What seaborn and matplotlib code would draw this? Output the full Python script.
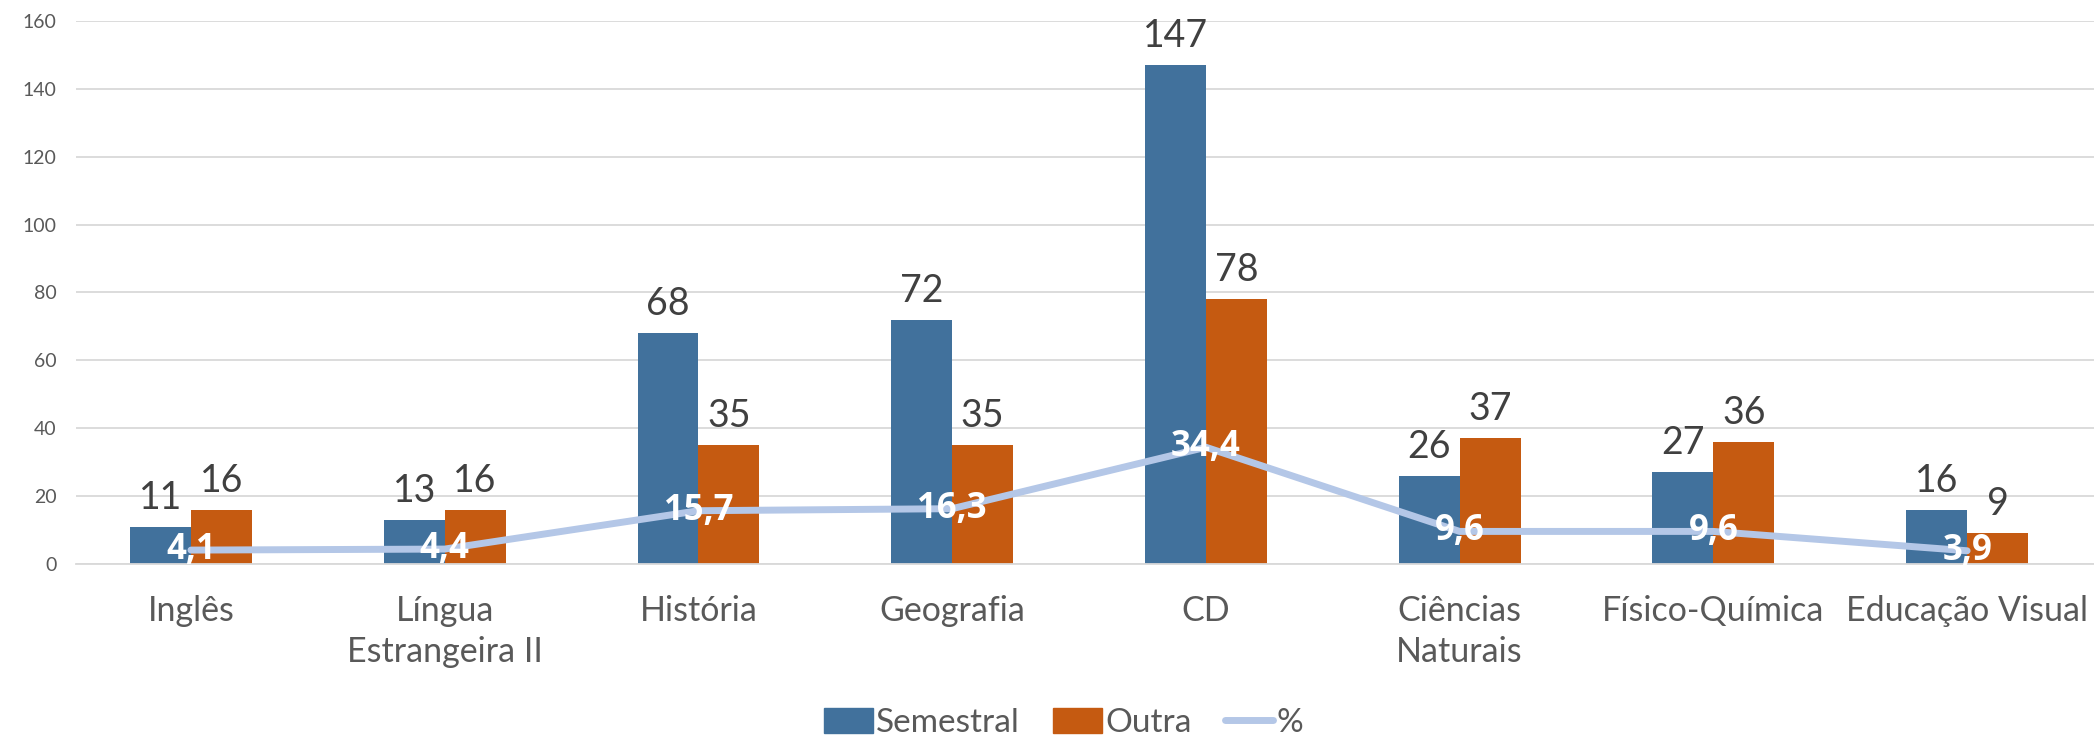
import numpy as np
import pandas as pd
import matplotlib
matplotlib.use('Agg')
import matplotlib.pyplot as plt
import seaborn as sns
from matplotlib.lines import Line2D
from matplotlib.patches import Patch

disciplinas = ['Inglês', 'Língua\nEstrangeira II', 'História', 'Geografia', 'CD',
               'Ciências\nNaturais', 'Físico-Química', 'Educação Visual']
semestral = [11, 13, 68, 72, 147, 26, 27, 16]
outra = [16, 16, 35, 35, 78, 37, 36, 9]
pct = [4.1, 4.4, 15.7, 16.3, 34.4, 9.6, 9.6, 3.9]
yticks = [0, 20, 40, 60, 80, 100, 120, 140, 160]

c_sem = '#41719C'
c_out = '#C55A11'
c_pct = '#B4C7E7'
txt = '#404040'
tick_c = '#595959'

sns.set_style('white')
plt.rcParams['font.family'] = ['Lato', 'DejaVu Sans']

df = pd.DataFrame({
    'disc': disciplinas * 2,
    'val': semestral + outra,
    'tipo': ['Semestral'] * len(disciplinas) + ['Outra'] * len(disciplinas),
})

fig = plt.figure(figsize=(20.94, 7.39), dpi=100)
ax = fig.add_axes([0.0363, 0.2368, 0.9637, 0.7348])

sns.barplot(data=df, x='disc', y='val', hue='tipo', order=disciplinas,
            hue_order=['Semestral', 'Outra'], palette=[c_sem, c_out],
            width=0.48, gap=0, saturation=1, edgecolor='none', legend=False, ax=ax)

for cont in ax.containers:
    ax.bar_label(cont, labels=[f'{int(v)}' for v in cont.datavalues],
                 padding=8, fontsize=27, color=txt)

xs = np.arange(len(disciplinas))
sns.lineplot(x=xs, y=pct, color=c_pct, lw=5, ax=ax, zorder=3)
for x, v in zip(xs, pct):
    ax.text(x, v, f'{v:.1f}'.replace('.', ','), ha='center', va='center',
            color='white', fontsize=25, fontweight='bold',
            family=['Open Sans', 'DejaVu Sans'], zorder=4)

ax.set_xlim(-0.453, len(disciplinas) - 0.5)
ax.set_ylim(0, 160)
ax.set_yticks(yticks)
ax.yaxis.grid(True, color='#D9D9D9', lw=1.3)
ax.set_axisbelow(True)
for s in ['top', 'right', 'left']:
    ax.spines[s].set_visible(False)
ax.spines['bottom'].set_color('#D9D9D9')
ax.spines['bottom'].set_linewidth(1.3)
ax.tick_params(axis='y', labelsize=14, colors=tick_c, length=0, pad=14)
ax.tick_params(axis='x', labelsize=24.5, colors=tick_c, length=0, pad=22)
for t in ax.get_xticklabels():
    t.set_linespacing(1.35)
ax.set_xlabel('')
ax.set_ylabel('')

handles = [Patch(color=c_sem, label='Semestral'),
           Patch(color=c_out, label='Outra'),
           Line2D([0], [0], color=c_pct, lw=5, label='%')]
leg = fig.legend(handles=handles, loc='center', bbox_to_anchor=(0.508, 0.022),
                 ncol=3, frameon=False, fontsize=24, handlelength=1.45,
                 handletextpad=0.1, columnspacing=1.0, handleheight=0.8)
for t in leg.get_texts():
    t.set_color(tick_c)

fig.savefig('out.png', dpi=100)
